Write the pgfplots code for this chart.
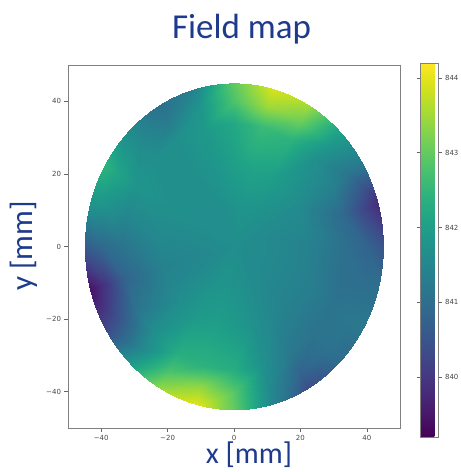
\documentclass[border=0pt]{standalone}
\usepackage{pgfplots}
\pgfplotsset{compat=1.18}
\usepackage{fontspec}
\setmainfont{DejaVu Sans}
\newfontfamily\carlito{Carlito}
\definecolor{titleblue}{RGB}{30,58,140}
\definecolor{tickgray}{RGB}{70,70,70}

\pgfplotstableread{
x y v
0 0 841.65
0 0 841.65
0 0 841.65
0 0 841.65
0 0 841.65
0 0 841.65
0 0 841.65
0 0 841.65
0 0 841.65
0 0 841.65
0 0 841.65
0 0 841.65
0 0 841.65
0 0 841.65
0 0 841.65
0 0 841.65
0 0 841.65
0 0 841.65
0 0 841.65
0 0 841.65
0 0 841.65
0 0 841.65
0 0 841.65
0 0 841.65
0 0 841.65
11 0 841.55
10.625 2.847 841.55
9.526 5.5 841.6
7.778 7.778 841.7
5.5 9.526 841.75
2.847 10.625 841.8
0 11 841.75
-2.847 10.625 841.7
-5.5 9.526 841.65
-7.778 7.778 841.65
-9.526 5.5 841.65
-10.625 2.847 841.6
-11 0 841.55
-10.625 -2.847 841.5
-9.526 -5.5 841.55
-7.778 -7.778 841.65
-5.5 -9.526 841.75
-2.847 -10.625 841.8
0 -11 841.75
2.847 -10.625 841.7
5.5 -9.526 841.6
7.778 -7.778 841.55
9.526 -5.5 841.55
10.625 -2.847 841.55
11 0 841.55
22 0 841.4
21.25 5.694 841.5
19.053 11 841.6
15.556 15.556 841.8
11 19.053 842.0
5.694 21.25 842.1
0 22 842.0
-5.694 21.25 841.8
-11 19.053 841.7
-15.556 15.556 841.7
-19.053 11 841.7
-21.25 5.694 841.6
-22 0 841.5
-21.25 -5.694 841.4
-19.053 -11 841.5
-15.556 -15.556 841.7
-11 -19.053 841.9
-5.694 -21.25 842.0
0 -22 841.9
5.694 -21.25 841.7
11 -19.053 841.5
15.556 -15.556 841.4
19.053 -11 841.4
21.25 -5.694 841.4
22 0 841.4
34 0 841.0
32.842 8.8 840.9
29.445 17 841.4
24.042 24.042 841.7
17 29.445 842.4
8.8 32.842 842.6
0 34 842.2
-8.8 32.842 841.9
-17 29.445 841.7
-24.042 24.042 841.7
-29.445 17 841.8
-32.842 8.8 841.5
-34 0 841.1
-32.842 -8.8 840.8
-29.445 -17 841.1
-24.042 -24.042 841.7
-17 -29.445 842.3
-8.8 -32.842 842.4
0 -34 842.3
8.8 -32.842 841.7
17 -29.445 841.2
24.042 -24.042 841.1
29.445 -17 841.1
32.842 -8.8 841.0
34 0 841.0
40 0 840.8
38.637 10.353 840.3
34.641 20 841.1
28.284 28.284 841.9
20 34.641 843.1
10.353 38.637 843.5
0 40 842.8
-10.353 38.637 841.8
-20 34.641 841.25
-28.284 28.284 841.6
-34.641 20 842.1
-38.637 10.353 841.7
-40 0 840.9
-38.637 -10.353 840.0
-34.641 -20 840.5
-28.284 -28.284 841.5
-20 -34.641 842.8
-10.353 -38.637 843.4
0 -40 842.9
10.353 -38.637 841.6
20 -34.641 840.8
28.284 -28.284 841.1
34.641 -20 841.2
38.637 -10.353 841.0
40 0 840.8
46 0 840.4
44.433 11.906 839.7
39.837 23 841.2
32.527 32.527 842.1
23 39.837 843.6
11.906 44.433 844.0
0 46 843.0
-11.906 44.433 841.4
-23 39.837 841.0
-32.527 32.527 841.6
-39.837 23 842.5
-44.433 11.906 841.8
-46 0 840.6
-44.433 -11.906 839.3
-39.837 -23 840.2
-32.527 -32.527 841.9
-23 -39.837 843.5
-11.906 -44.433 844.1
0 -46 843.0
11.906 -44.433 841.4
23 -39.837 840.3
32.527 -32.527 840.9
39.837 -23 841.2
44.433 -11.906 841.0
46 0 840.4
}\fieldtable

\begin{document}
\begin{tikzpicture}[x=1pt,y=1pt]
\path[use as bounding box] (-68,-44) rectangle (393,428);
\begin{axis}[
  at={(0,0)}, anchor=south west,
  scale only axis, width=332pt, height=363pt,
  xmin=-50, xmax=50, ymin=-50, ymax=50,
  xtick={-40,-20,0,20,40}, ytick={-40,-20,0,20,40},
  xticklabels={−40,−20,0,20,40}, yticklabels={−40,−20,0,20,40},
  tick align=outside, tick pos=left, major tick length=3.5pt,
  tick style={black!60, line width=0.6pt},
  axis line style={black!50, line width=0.8pt},
  ticklabel style={font=\fontsize{7}{8}\selectfont, text=tickgray},
  colormap/viridis,
  point meta min=839.2, point meta max=844.2,
  colorbar,
  colorbar style={
    at={(parent axis.north east)}, anchor=north west, xshift=11.5pt, yshift=2pt,
    scale only axis, width=18pt, height=374pt,
    ytick={840,841,842,843,844},
    yticklabels={840,841,842,843,844},
    tick align=outside, major tick length=3.5pt,
    tick style={black!60, line width=0.6pt},
    axis line style={black!50, line width=0.6pt},
    yticklabel style={font=\fontsize{7}{8}\selectfont, text=tickgray},
  },
]
\begin{scope}
\clip (axis cs:0,0) ellipse [x radius=45, y radius=45];
\addplot[surf, shader=interp, mesh/cols=25, mesh/rows=6, point meta=explicit]
  table[x=x, y=y, meta=v] {\fieldtable};
\end{scope}
\end{axis}
\node[font=\carlito\fontsize{35}{40}\selectfont, text=titleblue, anchor=base] at (173.5,389) {Field map};
\node[font=\carlito\fontsize{30}{36}\selectfont, text=titleblue, anchor=base] at (181,-35) {x [mm]};
\node[font=\carlito\fontsize{31}{36}\selectfont, text=titleblue, anchor=base, rotate=90] at (-35,182) {y [mm]};
\end{tikzpicture}
\end{document}
